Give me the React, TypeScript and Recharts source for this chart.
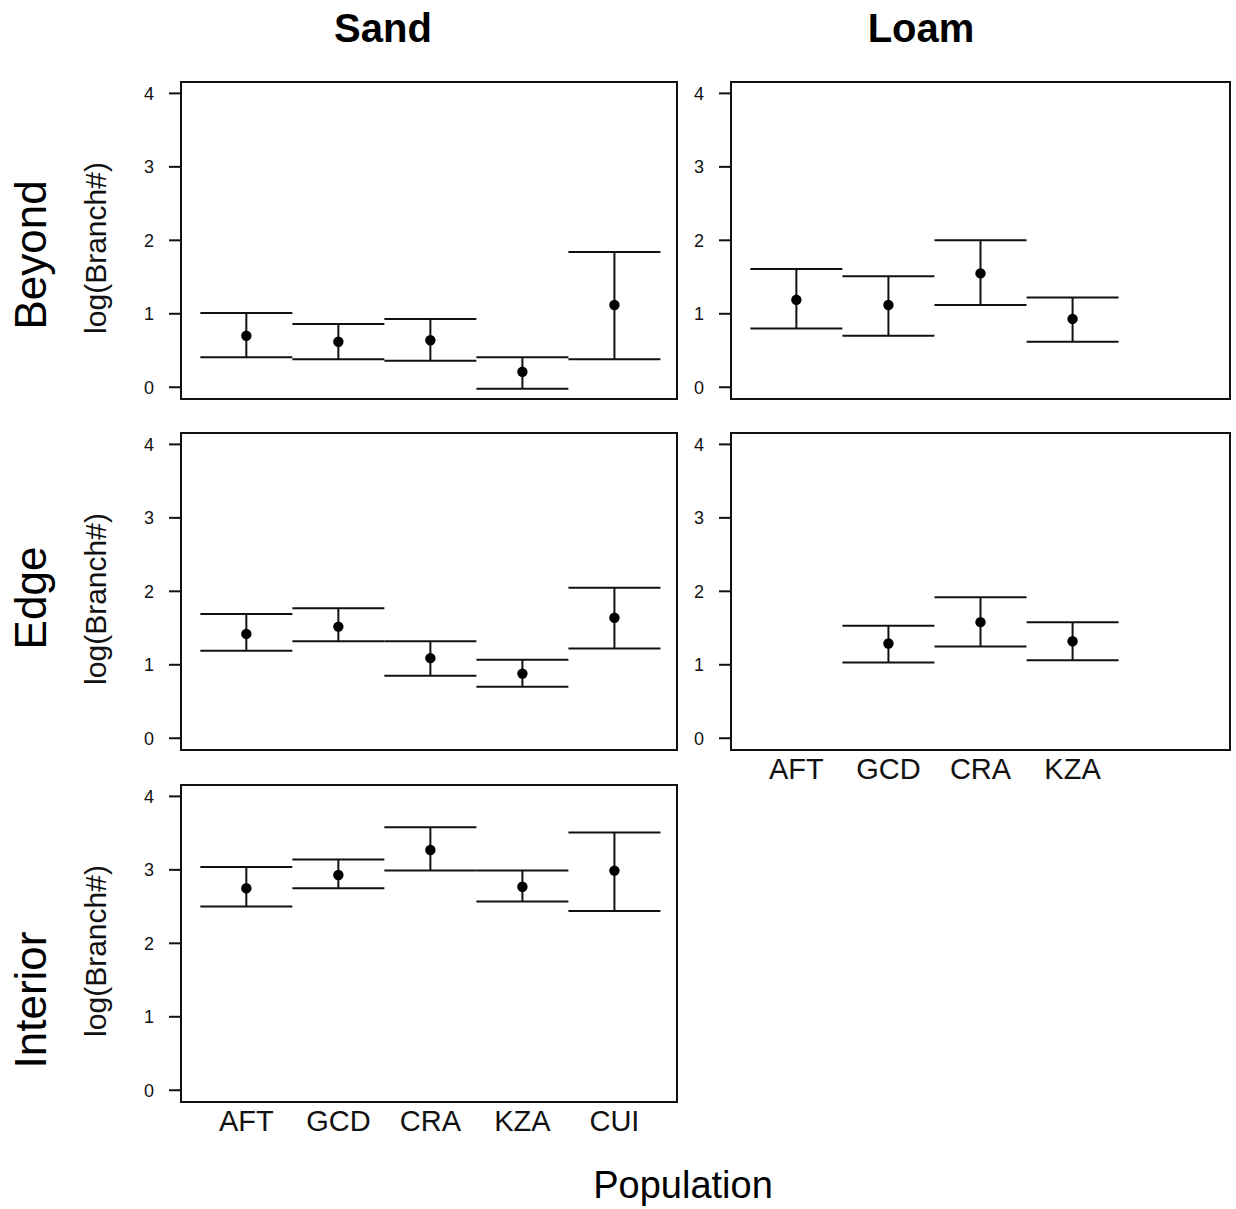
import React from 'react';
import { ScatterChart, Scatter, XAxis, YAxis, ZAxis, ErrorBar, ReferenceArea } from 'recharts';

// ---- Data ----
const sandCategories = ['AFT', 'GCD', 'CRA', 'KZA', 'CUI'];
const loamCategories = ['AFT', 'GCD', 'CRA', 'KZA'];
const yTicks = [0, 1, 2, 3, 4];

const sandBeyondMean = [0.70, 0.62, 0.64, 0.21, 1.12];
const sandBeyondLow = [0.41, 0.38, 0.36, -0.02, 0.38];
const sandBeyondHigh = [1.01, 0.86, 0.93, 0.41, 1.84];

const loamBeyondMean = [1.19, 1.12, 1.55, 0.93];
const loamBeyondLow = [0.80, 0.70, 1.12, 0.62];
const loamBeyondHigh = [1.61, 1.51, 2.00, 1.22];

const sandEdgeMean = [1.42, 1.52, 1.09, 0.88, 1.64];
const sandEdgeLow = [1.19, 1.32, 0.85, 0.70, 1.22];
const sandEdgeHigh = [1.69, 1.77, 1.32, 1.07, 2.05];

const loamEdgeMean = [null, 1.29, 1.58, 1.32];
const loamEdgeLow = [null, 1.03, 1.25, 1.06];
const loamEdgeHigh = [null, 1.53, 1.92, 1.58];

const sandInteriorMean = [2.75, 2.93, 3.27, 2.77, 2.99];
const sandInteriorLow = [2.50, 2.75, 2.99, 2.57, 2.44];
const sandInteriorHigh = [3.04, 3.14, 3.58, 2.99, 3.51];

type Row = { x: number; mean: number; lo: number; hi: number };

function buildRows(means: (number | null)[], lows: (number | null)[], highs: (number | null)[]): Row[] {
  const rows: Row[] = [];
  means.forEach((m, i) => {
    if (m === null || lows[i] === null || highs[i] === null) return;
    rows.push({ x: i + 1, mean: m, lo: lows[i] as number, hi: highs[i] as number });
  });
  return rows;
}

const FONT = '"Liberation Sans", Arial, Helvetica, sans-serif';
const INK = '#111';
const LINE = { stroke: '#111', strokeWidth: 2 };

const Y_DOMAIN: [number, number] = [-0.16, 4.155];

type PanelProps = {
  left: number;
  top: number;
  plotW: number;
  plotH: number;
  xDomain: [number, number];
  categories: string[];
  rows: Row[];
  showXTicks: boolean;
};

function Panel({ left, top, plotW, plotH, xDomain, categories, rows, showXTicks }: PanelProps) {
  const yAxisW = 80;
  const mTop = 10;
  const mRight = 10;
  const xAxisH = 50;
  const width = yAxisW + plotW + mRight;
  const height = mTop + plotH + xAxisH;
  const xTicks = categories.map((_, i) => i + 1);
  return (
    <div style={{ position: 'absolute', left: left - yAxisW, top: top - mTop, width, height }}>
      <ScatterChart width={width} height={height} margin={{ top: mTop, right: mRight, bottom: 0, left: 0 }}>
        <XAxis
          dataKey="x"
          type="number"
          domain={xDomain}
          ticks={xTicks}
          interval={0}
          allowDataOverflow
          height={xAxisH}
          tickLine={false}
          tickSize={6}
          tickMargin={2}
          axisLine={LINE}
          tick={showXTicks ? { fontSize: 29, fill: INK, fontFamily: FONT } : false}
          tickFormatter={(v: number) => categories[v - 1] ?? ''}
        />
        <YAxis
          dataKey="mean"
          type="number"
          domain={Y_DOMAIN}
          ticks={yTicks}
          interval={0}
          allowDataOverflow
          width={yAxisW}
          tickSize={12}
          tickMargin={15}
          tickLine={LINE}
          axisLine={LINE}
          tick={{ fontSize: 18, fill: INK, fontFamily: FONT }}
        />
        <ZAxis range={[85, 85]} />
        <ReferenceArea
          x1={xDomain[0]}
          x2={xDomain[1]}
          y1={Y_DOMAIN[0]}
          y2={Y_DOMAIN[1]}
          fill="none"
          fillOpacity={0}
          stroke="#111"
          strokeWidth={2}
          ifOverflow="visible"
        />
        <Scatter data={rows} dataKey="mean" fill="#000" isAnimationActive={false}>
          <ErrorBar
            dataKey={(d: Row) => [d.mean - d.lo, d.hi - d.mean]}
            direction="y"
            width={46}
            stroke="#111"
            strokeWidth={2}
            isAnimationActive={false}
          />
        </Scatter>
      </ScatterChart>
    </div>
  );
}

const SAND_LEFT = 181;
const LOAM_LEFT = 731;
const SAND_W = 496;
const LOAM_W = 499;
const PLOT_H = 317;
const ROW_TOPS = [82, 433, 785];
const SAND_XDOMAIN: [number, number] = [0.29, 5.68];
const LOAM_XDOMAIN: [number, number] = [0.29, 5.71];

const rowLabels = ['Beyond', 'Edge', 'Interior'];
const rowLabelY = [255, 598, 1000];
const yLabelY = [248, 599, 951];
const columnTitles = ['Sand', 'Loam'];
const columnTitleX = [383, 921];

export default function App() {
  return (
    <div style={{ position: 'absolute', left: 0, top: 0, width: 1236, height: 1209, background: '#fff', fontFamily: FONT }}>
      <Panel left={SAND_LEFT} top={ROW_TOPS[0]} plotW={SAND_W} plotH={PLOT_H} xDomain={SAND_XDOMAIN}
        categories={sandCategories} rows={buildRows(sandBeyondMean, sandBeyondLow, sandBeyondHigh)} showXTicks={false} />
      <Panel left={LOAM_LEFT} top={ROW_TOPS[0]} plotW={LOAM_W} plotH={PLOT_H} xDomain={LOAM_XDOMAIN}
        categories={loamCategories} rows={buildRows(loamBeyondMean, loamBeyondLow, loamBeyondHigh)} showXTicks={false} />
      <Panel left={SAND_LEFT} top={ROW_TOPS[1]} plotW={SAND_W} plotH={PLOT_H} xDomain={SAND_XDOMAIN}
        categories={sandCategories} rows={buildRows(sandEdgeMean, sandEdgeLow, sandEdgeHigh)} showXTicks={false} />
      <Panel left={LOAM_LEFT} top={ROW_TOPS[1]} plotW={LOAM_W} plotH={PLOT_H} xDomain={LOAM_XDOMAIN}
        categories={loamCategories} rows={buildRows(loamEdgeMean, loamEdgeLow, loamEdgeHigh)} showXTicks={true} />
      <Panel left={SAND_LEFT} top={ROW_TOPS[2]} plotW={SAND_W} plotH={PLOT_H} xDomain={SAND_XDOMAIN}
        categories={sandCategories} rows={buildRows(sandInteriorMean, sandInteriorLow, sandInteriorHigh)} showXTicks={true} />

      <svg width={1236} height={1209} style={{ position: 'absolute', left: 0, top: 0, pointerEvents: 'none' }}>
        {columnTitles.map((t, i) => (
          <text key={t} x={columnTitleX[i]} y={42} textAnchor="middle" fontSize={40} fontWeight="bold" fill="#000" fontFamily={FONT}>
            {t}
          </text>
        ))}
        {rowLabels.map((t, i) => (
          <text key={t} transform={`translate(46, ${rowLabelY[i]}) rotate(-90)`} textAnchor="middle" fontSize={44} fill="#000" fontFamily={FONT}>
            {t}
          </text>
        ))}
        {yLabelY.map((y, i) => (
          <text key={i} transform={`translate(106, ${y}) rotate(-90)`} textAnchor="middle" fontSize={30} fill={INK} fontFamily={FONT}>
            log(Branch#)
          </text>
        ))}
        <text x={683} y={1198} textAnchor="middle" fontSize={38} fill="#000" fontFamily={FONT}>
          Population
        </text>
      </svg>
    </div>
  );
}
